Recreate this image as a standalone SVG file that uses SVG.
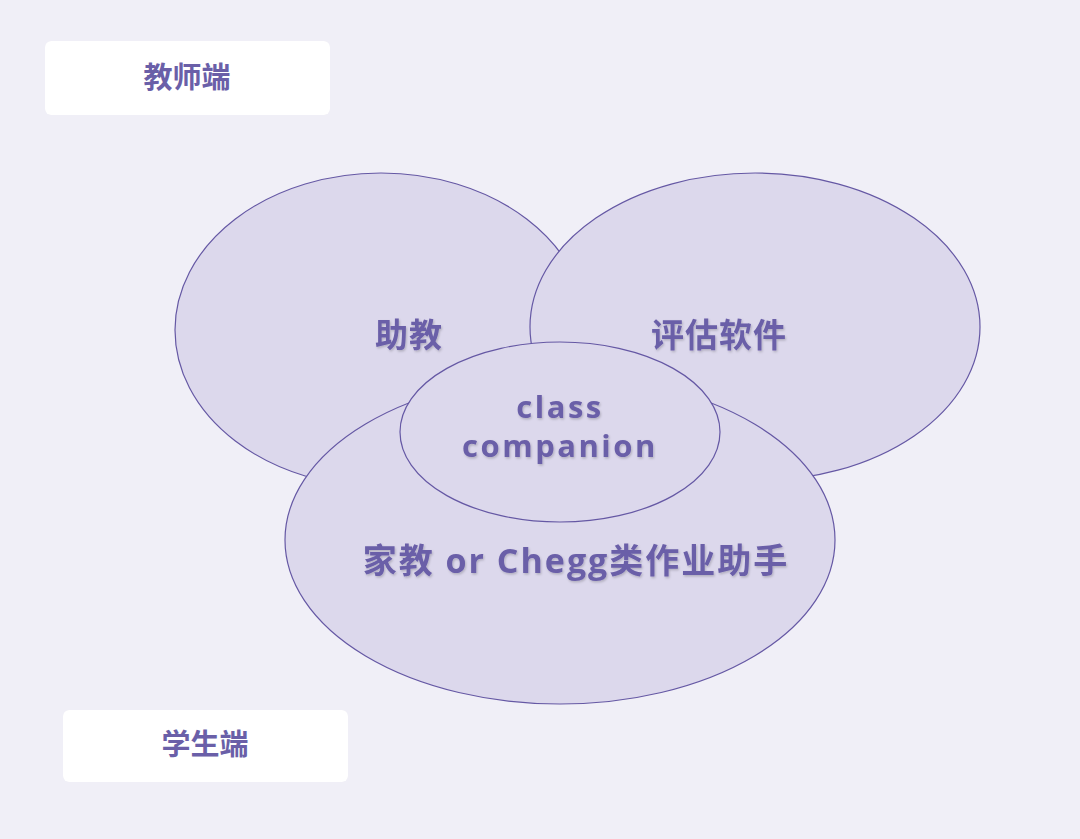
<svg xmlns="http://www.w3.org/2000/svg" width="1080" height="839" viewBox="0 0 1080 839">
<defs>
<filter id="glow" x="-10%" y="-20%" width="120%" height="140%"><feGaussianBlur in="SourceAlpha" stdDeviation="3"/><feFlood flood-color="#d8d6e6" flood-opacity="0.6"/><feComposite operator="in" in2="SourceAlpha"/><feMerge><feMergeNode/><feMergeNode in="SourceGraphic"/></feMerge></filter>
<filter id="ts" x="-5%" y="-20%" width="110%" height="140%"><feDropShadow dx="1" dy="1.5" stdDeviation="1" flood-color="#000" flood-opacity="0.2"/></filter>
<style>
.ell{fill:#dcd8ec;stroke:#6558a4;stroke-width:1.2}
.lbl{font-family:"Noto Sans CJK SC","Open Sans",sans-serif;font-weight:bold;fill:#6a5fa8;text-anchor:middle;filter:url(#ts)}
.lat{font-family:"Open Sans","Noto Sans CJK SC",sans-serif}
.box{fill:#ffffff}
.side{font-family:"Noto Sans CJK SC",sans-serif;font-weight:bold;fill:#6a5fa8;text-anchor:middle;font-size:29px}
</style>
</defs>
<rect width="1080" height="839" fill="#f0eff7"/>
<g id="teacher"><rect class="box" x="45" y="41" width="285" height="74" rx="6" filter="url(#glow)"/><text class="side" x="187" y="88">教师端</text></g>
<g id="student"><rect class="box" x="63" y="710" width="285" height="72" rx="6" filter="url(#glow)"/><text class="side" x="205" y="755">学生端</text></g>
<g id="connectors"></g>
<g id="assistant"><ellipse class="ell" cx="381" cy="330" rx="206" ry="157"/></g>
<g id="assessment"><ellipse class="ell" cx="755" cy="327" rx="225" ry="154"/></g>
<g id="tutor"><ellipse class="ell" cx="560" cy="540" rx="275" ry="164"/></g>
<g id="companion"><ellipse class="ell" cx="560" cy="432" rx="160" ry="90"/></g>
<g id="labels">
<text class="lbl" x="409" y="347" font-size="33" letter-spacing="1">助教</text>
<text class="lbl" x="719" y="347" font-size="33" letter-spacing="1">评估软件</text>
<text class="lbl lat" x="560" y="418" font-size="31" letter-spacing="2.5">class</text>
<text class="lbl lat" x="560" y="457" font-size="31" letter-spacing="2.5">companion</text>
<text class="lbl" x="576" y="573" font-size="34" letter-spacing="2">家教<tspan class="lat"> or Chegg</tspan>类作业助手</text>
</g>
</svg>
